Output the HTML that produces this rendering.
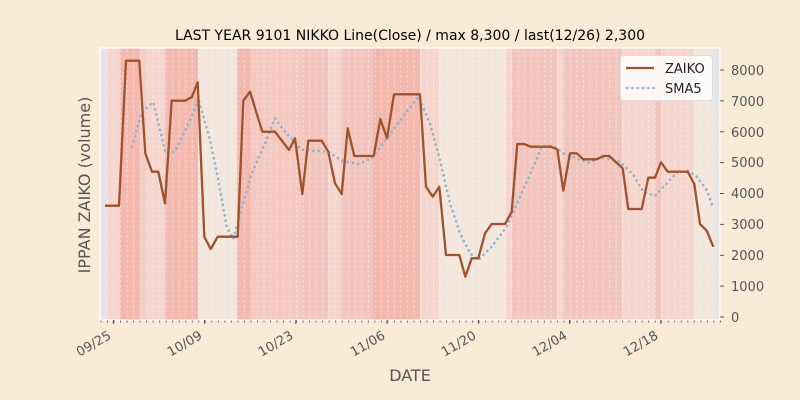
<!DOCTYPE html>
<html><head><meta charset="utf-8"><style>
html,body{margin:0;padding:0;background:#faebd7;}
svg{display:block;font-family:"DejaVu Sans","Liberation Sans",sans-serif;}
</style></head><body>
<svg width="800" height="400" viewBox="0 0 800 400" xmlns="http://www.w3.org/2000/svg">
<defs>
<pattern id="vg" x="100.5" y="0" width="6.52" height="400" patternUnits="userSpaceOnUse">
<line x1="0.5" y1="0" x2="0.5" y2="400" stroke="#ffffff" stroke-opacity="0.55" stroke-width="0.8" stroke-dasharray="2.5,2.5"/>
</pattern>
<pattern id="mt" x="100.5" y="0" width="6.52" height="400" patternUnits="userSpaceOnUse">
<line x1="0.5" y1="0" x2="0.5" y2="400" stroke="#555" stroke-width="0.9"/>
</pattern>
</defs>
<rect width="800" height="400" fill="#faebd7"/>
<g>
<rect x="100" y="48" width="620" height="272" fill="#f2e6dd"/>
<rect x="100" y="48" width="7" height="272" fill="#e5e5e5"/>
<rect x="107" y="48" width="13" height="272" fill="#f5d7cf"/>
<rect x="120" y="48" width="20" height="272" fill="#f4b9ae"/>
<rect x="140" y="48" width="7" height="272" fill="#f4cdc4"/>
<rect x="147" y="48" width="18" height="272" fill="#f5d7cf"/>
<rect x="165" y="48" width="33" height="272" fill="#f4b9ae"/>
<rect x="198" y="48" width="39" height="272" fill="#f2e6dd"/>
<rect x="237" y="48" width="14" height="272" fill="#f4b9ae"/>
<rect x="251" y="48" width="51" height="272" fill="#f3c9c0"/>
<rect x="302" y="48" width="26" height="272" fill="#f3c6bd"/>
<rect x="328" y="48" width="13" height="272" fill="#f5d7cf"/>
<rect x="341" y="48" width="32" height="272" fill="#f3c6bd"/>
<rect x="373" y="48" width="14" height="272" fill="#f2b8ad"/>
<rect x="387" y="48" width="33" height="272" fill="#f4b9ae"/>
<rect x="420" y="48" width="19" height="272" fill="#f5d7cf"/>
<rect x="439" y="48" width="67" height="272" fill="#f2e6dd"/>
<rect x="506" y="48" width="6" height="272" fill="#f5d7cf"/>
<rect x="512" y="48" width="45" height="272" fill="#f2c6bd"/>
<rect x="557" y="48" width="6" height="272" fill="#f5d7cf"/>
<rect x="563" y="48" width="59" height="272" fill="#f2c6bd"/>
<rect x="622" y="48" width="33" height="272" fill="#f5d7cf"/>
<rect x="655" y="48" width="6" height="272" fill="#f3c6bd"/>
<rect x="661" y="48" width="33" height="272" fill="#f5d7cf"/>
<rect x="694" y="48" width="19" height="272" fill="#f2e6dd"/>
<rect x="713" y="48" width="7" height="272" fill="#e5e5e5"/>
<rect x="100" y="48" width="620" height="272" fill="url(#vg)"/>
</g>
<rect x="100" y="48" width="620" height="272" fill="none" stroke="#ffffff" stroke-width="1.2"/>
<polyline fill="none" stroke="#8fb4cc" stroke-width="2.6" stroke-dasharray="0.1,5.2" stroke-linecap="round" points="132.3,146.7 141.7,111.7 153.3,102.3 165.7,153.3 175,151.7 191.7,116.7 198.3,98.3 210,140 218.3,180 226.7,226.7 233.3,239 245,196.7 251.7,173.3 265,143.3 275,118.3 285,131.7 301.7,150 328.3,151.7 341.7,160.7 358.3,164 371.7,158.3 381.7,145 395,127.3 418.3,96.7 430,123.3 440,160 450,203.3 460,233.3 470,253.3 478.3,260 491.7,246.7 506.7,226.7 520,196.7 533.3,166.7 541.7,146.7 553.3,146 563.3,153.3 580,160 590,162.7 600,157.3 620,161.7 633.3,175 643.3,191.7 655,196 666.7,183.3 676.7,172.7 688.3,170.7 696.7,176.7 706.7,190 713.3,208.3"/>
<polyline fill="none" stroke="#a0522d" stroke-width="2.3" stroke-linejoin="round" points="105,205.7 119,205.7 126,60.7 139.3,60.7 145.3,153.3 152,171.7 158.3,171.7 165,203.3 171.7,100.7 185,100.7 191.7,97.3 197.7,82.3 204.3,236.7 210.7,249 217.7,236.7 237.7,236.7 243.3,100.7 250,91.7 262.3,131.7 275,131.7 289,150 295,138.3 302.3,194 308.3,140.7 321.7,140.7 328.3,151.7 335,183.3 341.7,194 347.7,128.3 354.3,156 373.7,156 380.3,119 387,138.3 394,94.3 420,94.3 426,186.7 432.7,196.7 439.3,186.7 446,255 459.3,255 465.3,276.7 471.7,258.3 478.3,258.3 485,233.3 491.7,224 505,224 511.7,211.7 517.3,144 524,144 530.7,146.7 550.7,146.7 557.3,149.3 563.3,190.7 570,153.3 576.7,153.3 583.3,159.3 596.7,159.3 603.3,156 609.3,156 622.7,168.3 628.3,209 641.7,209 648.3,177.7 655,177.7 661,162.3 667.7,171.7 687.7,171.7 694.3,184 700,224 706.7,230.7 713.3,246.7"/>
<g stroke="#555" stroke-width="1">
<line x1="720" y1="317" x2="724" y2="317"/><line x1="720" y1="286.1" x2="724" y2="286.1"/><line x1="720" y1="255.3" x2="724" y2="255.3"/><line x1="720" y1="224.4" x2="724" y2="224.4"/><line x1="720" y1="193.5" x2="724" y2="193.5"/><line x1="720" y1="162.6" x2="724" y2="162.6"/><line x1="720" y1="131.8" x2="724" y2="131.8"/><line x1="720" y1="100.9" x2="724" y2="100.9"/><line x1="720" y1="70" x2="724" y2="70"/>
</g>
<g font-size="13" fill="#555">
<text x="731" y="322">0</text><text x="731" y="291">1000</text><text x="731" y="260">2000</text><text x="731" y="229">3000</text><text x="731" y="198">4000</text><text x="731" y="167">5000</text><text x="731" y="137">6000</text><text x="731" y="106">7000</text><text x="731" y="75">8000</text>
</g>
<rect x="100" y="320.5" width="621" height="2" fill="url(#mt)"/>
<g stroke="#555" stroke-width="1">
<line x1="113.3" y1="320" x2="113.3" y2="324"/><line x1="204.5" y1="320" x2="204.5" y2="324"/><line x1="295.8" y1="320" x2="295.8" y2="324"/><line x1="387" y1="320" x2="387" y2="324"/><line x1="478.3" y1="320" x2="478.3" y2="324"/><line x1="569.5" y1="320" x2="569.5" y2="324"/><line x1="660.8" y1="320" x2="660.8" y2="324"/>
</g>
<g font-size="13" fill="#555" text-anchor="end">
<text transform="translate(112,338) rotate(-30)">09/25</text>
<text transform="translate(203,338) rotate(-30)">10/09</text>
<text transform="translate(294,338) rotate(-30)">10/23</text>
<text transform="translate(386,338) rotate(-30)">11/06</text>
<text transform="translate(477,338) rotate(-30)">11/20</text>
<text transform="translate(568,338) rotate(-30)">12/04</text>
<text transform="translate(659,338) rotate(-30)">12/18</text>
</g>
<text x="410" y="381" font-size="16" fill="#555" text-anchor="middle">DATE</text>
<text transform="translate(90,185) rotate(-90)" font-size="16" fill="#555" text-anchor="middle">IPPAN ZAIKO (volume)</text>
<text x="410" y="40" font-size="14" fill="#000" text-anchor="middle">LAST YEAR 9101 NIKKO Line(Close) / max 8,300 / last(12/26) 2,300</text>
<rect x="620.5" y="55.5" width="92" height="45" rx="3" fill="#ffffff" fill-opacity="0.85" stroke="#ddd"/>
<line x1="626" y1="68" x2="654" y2="68" stroke="#a0522d" stroke-width="2.3"/>
<line x1="627" y1="88" x2="654" y2="88" stroke="#8fb4cc" stroke-width="2.6" stroke-dasharray="0.1,5.2" stroke-linecap="round"/>
<text x="665" y="73" font-size="13" fill="#222">ZAIKO</text>
<text x="665" y="93" font-size="13" fill="#222">SMA5</text>
</svg>
</body></html>
